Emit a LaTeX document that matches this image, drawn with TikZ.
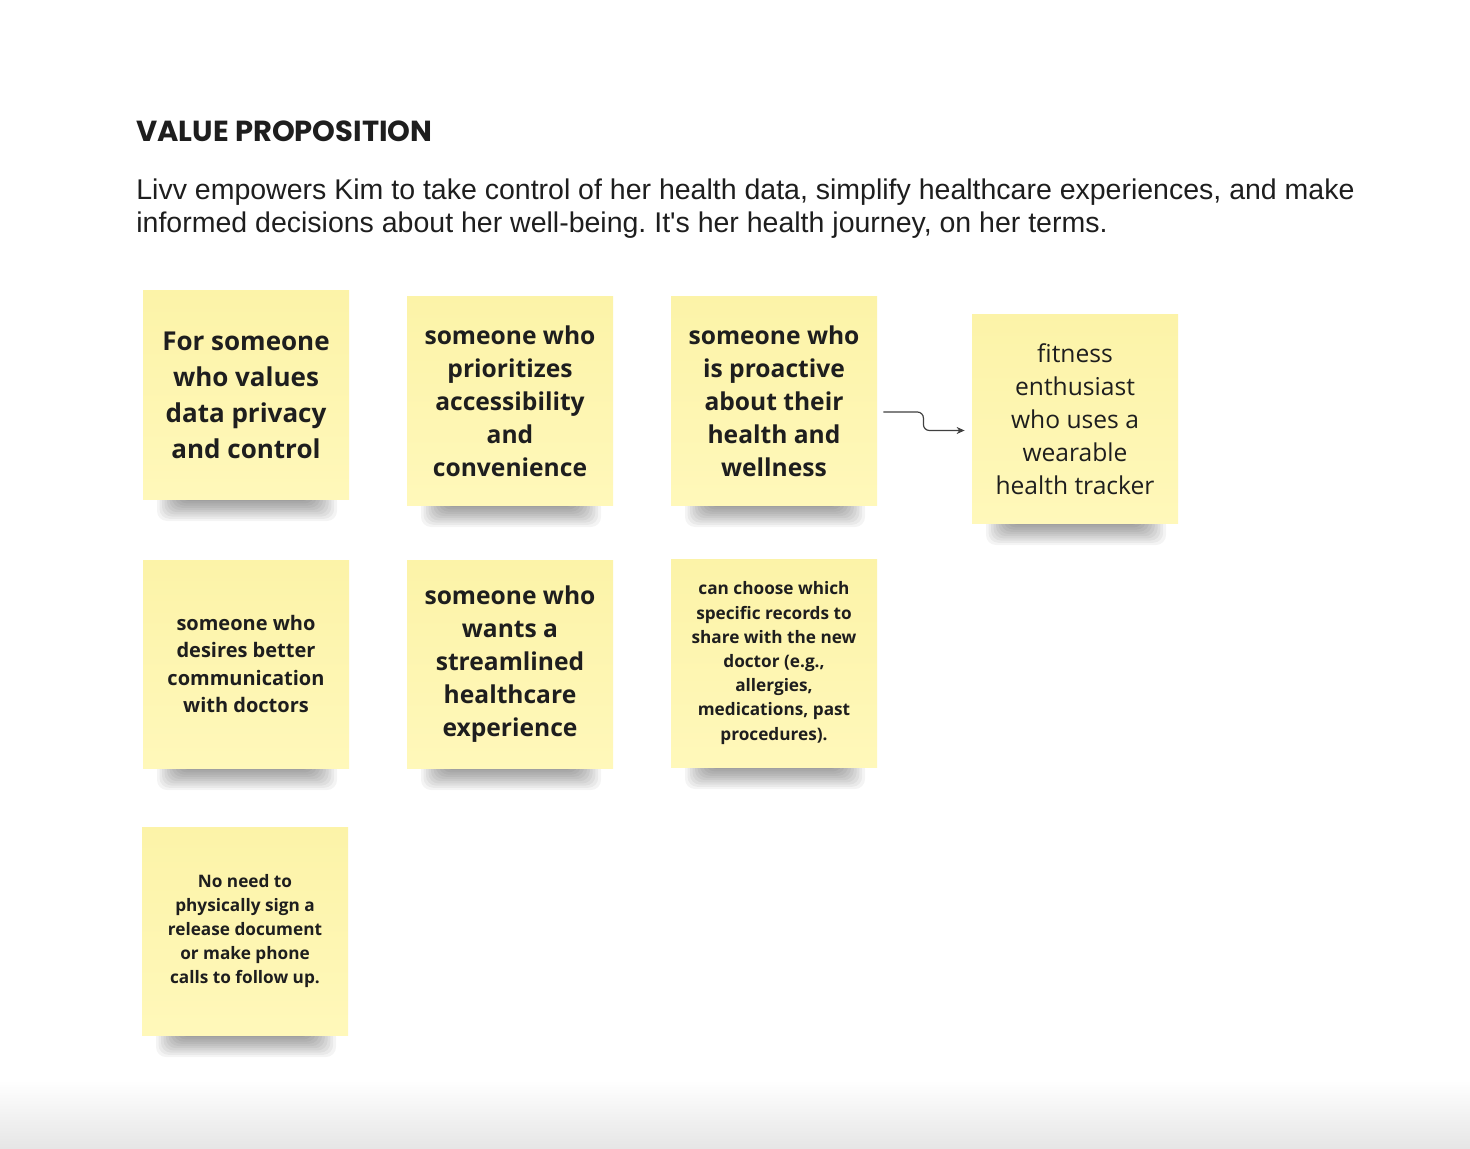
\documentclass[tikz,border=0pt]{standalone}
\usepackage{fontspec}
\setmainfont{Liberation Sans}
\newfontfamily\notefont{Open Sans}
\newfontfamily\titlefont{Poppins}
\usetikzlibrary{arrows.meta}
\frenchspacing
\definecolor{notetop}{RGB}{252,243,168}
\definecolor{notebot}{RGB}{255,248,186}
\definecolor{ink}{RGB}{30,30,30}
\tikzset{
 note/.style={shape=rectangle, top color=notetop, bottom color=notebot, minimum width=103pt, minimum height=104pt, inner sep=0pt, align=center, text=ink},
 bigb/.style={font=\notefont\bfseries\fontsize{13}{18}\selectfont},
 medb/.style={font=\notefont\bfseries\fontsize{12.3}{16.5}\selectfont},
 medr/.style={font=\notefont\fontsize{12.3}{16.5}\selectfont},
 smlb/.style={font=\notefont\bfseries\fontsize{10}{13.75}\selectfont},
 tinyb/.style={font=\notefont\bfseries\fontsize{8.6}{12.1}\selectfont},
 shad/.style={fill=black, opacity=0.045, rounded corners=5pt},
 bodytext/.style={anchor=base west, font=\fontsize{14.25}{16.5}\selectfont, inner sep=0pt, text=ink},
 conn/.style={draw=black!75, line width=0.6pt, rounded corners=3pt, -{Stealth[length=4pt,width=3.5pt]}},
}
\newcommand\sticky[5]{%
  \foreach \k in {0,...,9}{\fill[shad] ({#2+14+\k*2.5},{#3+200}) rectangle ({#2+194-\k*2.8},{#3+230-\k*2.2});}
  \node[note,#4] (#1) at ({#2+103},{#3+104}) {#5};
}
\begin{document}
\begin{tikzpicture}[x=0.5pt,y=-0.5pt]
\useasboundingbox (0,0) rectangle (1470,1149);
\fill[white] (0,0) rectangle (1470,1149);
\shade[top color=white,bottom color=black!10] (0,1080) rectangle (1470,1149);
\node[anchor=base west, font=\titlefont\bfseries\fontsize{14.5}{16}\selectfont, inner sep=0pt, text=ink] (title) at (136,142) {VALUE PROPOSITION};
\node[bodytext] (l1) at (136,200) {Livv empowers Kim to take control of her health data, simplify healthcare experiences, and make};
\node[bodytext] (l2) at (136,233) {informed decisions about her well-being. It\textquotesingle s her health journey, on her terms.};
\sticky{n1}{143}{291}{bigb}{For someone\\who values\\data privacy\\and control}
\sticky{n2}{407}{297}{medb}{someone who\\prioritizes\\accessibility\\and\\convenience}
\sticky{n3}{671}{297}{medb}{someone who\\is proactive\\about their\\health and\\wellness}
\sticky{n4}{972}{315}{medr}{fitness\\enthusiast\\who uses a\\wearable\\health tracker}
\sticky{n5}{143}{560}{smlb}{someone who\\desires better\\communication\\with doctors}
\sticky{n6}{407}{560}{medb}{someone who\\wants a\\streamlined\\healthcare\\experience}
\sticky{n7}{671}{559}{tinyb}{can choose which\\specific records to\\share with the new\\doctor (e.g.,\\allergies,\\medications, past\\procedures).}
\sticky{n8}{142}{827}{tinyb}{No need to\\physically sign a\\release document\\or make phone\\calls to follow up.}
\draw[conn] ([xshift=3pt,yshift=-5.5pt]n3.east) -- ++(40,0) |- ([xshift=-3.5pt,yshift=-5.75pt]n4.west);
\end{tikzpicture}
\end{document}
